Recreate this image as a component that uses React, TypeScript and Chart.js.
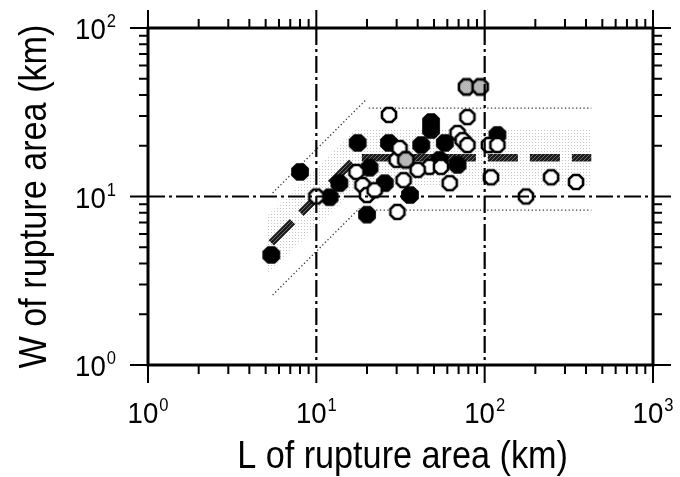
import React, { useEffect, useRef } from "react";
import { Chart, registerables } from "chart.js";

Chart.register(...registerables);

// ---- text ----
const X_TITLE = "L of rupture area (km)";
const Y_TITLE = "W of rupture area (km)";
const X_TICK_EXPONENTS = ["0", "1", "2", "3"];
const Y_TICK_EXPONENTS = ["0", "1", "2"];
const X_MIN = 1;
const X_MAX = 1000;
const Y_MIN = 1;
const Y_MAX = 100;
const GRID_X = [10, 100];
const GRID_Y = [10];

// ---- data: filled (black) events ----
const FILLED_L = [5.4, 8.0, 12, 13.7, 17.6, 20.7, 20, 27, 25.5, 36, 42, 48, 48, 58, 54, 69, 119];
const FILLED_W = [4.5, 14, 9.9, 12, 20.8, 14.8, 7.8, 20.8, 12, 10.2, 20.2, 27.7, 24.8, 20.8, 16.5, 15.4, 23.2];

// ---- data: open (white) events ----
const OPEN_L = [10, 17.3, 18.8, 20, 22.2, 27, 30, 30.3, 31.2, 47, 55, 62, 69, 74, 79, 79, 106, 119, 109, 176, 248, 349, 40, 33];
const OPEN_W = [10, 14, 11.7, 10.2, 10.9, 30.5, 16.5, 8.1, 19.4, 15, 15, 12, 23.8, 21.6, 20.2, 29.6, 20.2, 20.2, 13, 10, 13, 12.2, 14.4, 12.5];

// ---- data: gray (stippled) events ----
const GRAY_L = [34, 78, 94];
const GRAY_W = [16.5, 44.7, 44.7];

// ---- scaling relation (thick dashed) and its scatter band ----
const TREND_L = [5.4, 17.3, 430];
const TREND_W = [5.3, 17, 17];
const BAND_L = [5.1, 17.3, 430];
const BAND_UPPER_W = [7.7, 25.5, 25.5];
const BAND_LOWER_W = [3.4, 11.4, 11.4];

// ---- dotted envelope ----
const ENV_UP_DIAG_L = [5.5, 20];
const ENV_UP_DIAG_W = [10.5, 38];
const ENV_LOW_DIAG_L = [5.5, 18];
const ENV_LOW_DIAG_W = [2.6, 8.5];
const ENV_UP_FLAT_L = [20.5, 430];
const ENV_UP_FLAT_W = [33.5, 33.5];
const ENV_LOW_FLAT_L = [20.5, 430];
const ENV_LOW_FLAT_W = [8.3, 8.3];

const FONT = '"Liberation Sans", Arial, Helvetica, sans-serif';

const pts = (ls: number[], ws: number[]) => ls.map((l, i) => ({ x: l, y: ws[i] }));

function octagonPath(c: CanvasRenderingContext2D, cx: number, cy: number, r: number) {
  c.beginPath();
  for (let i = 0; i < 8; i++) {
    const a = Math.PI / 8 + (i * Math.PI) / 4;
    const px = cx + r * Math.cos(a);
    const py = cy + r * Math.sin(a);
    if (i === 0) c.moveTo(px, py);
    else c.lineTo(px, py);
  }
  c.closePath();
}

function makeMarker(r: number, fill: string | CanvasPattern, stroke: string | null, lw: number) {
  const size = Math.ceil(2 * r + lw + 2);
  const cv = document.createElement("canvas");
  cv.width = size;
  cv.height = size;
  const c = cv.getContext("2d")!;
  octagonPath(c, size / 2, size / 2, r);
  c.fillStyle = fill as any;
  c.fill();
  if (stroke) {
    c.lineWidth = lw;
    c.strokeStyle = stroke;
    c.stroke();
  }
  return cv;
}

const BASE_PX = 30;
const EXP_PX = 18;

function drawPow(c: CanvasRenderingContext2D, exp: string, xLeft: number, baseline: number, sx: number) {
  c.font = `${BASE_PX}px ${FONT}`;
  const w10 = c.measureText("10").width * sx;
  c.save();
  c.translate(xLeft, baseline);
  c.scale(sx, 1);
  c.fillText("10", 0, 0);
  c.restore();
  c.font = `${EXP_PX}px ${FONT}`;
  c.save();
  c.translate(xLeft + w10 + 1, baseline - 12);
  c.scale(sx, 1);
  c.fillText(exp, 0, 0);
  c.restore();
}

function powWidth(c: CanvasRenderingContext2D, exp: string, sx: number) {
  c.font = `${BASE_PX}px ${FONT}`;
  const a = c.measureText("10").width;
  c.font = `${EXP_PX}px ${FONT}`;
  const b = c.measureText(exp).width;
  return (a + b) * sx + 1;
}

const framePlugin = {
  id: "gmtFrame",
  afterDatasetsDraw(chart: any) {
    const { ctx: c, chartArea: a, scales } = chart;
    const xs = scales.x;
    const ys = scales.y;
    c.save();
    // dash-dot grid lines (on top of markers)
    c.strokeStyle = "#000";
    c.lineWidth = 2.2;
    c.setLineDash([17, 4, 3, 4]);
    GRID_X.forEach((v) => {
      const px = xs.getPixelForValue(v);
      c.beginPath();
      c.moveTo(px, a.top);
      c.lineTo(px, a.bottom);
      c.stroke();
    });
    GRID_Y.forEach((v) => {
      const py = ys.getPixelForValue(v);
      c.beginPath();
      c.moveTo(a.left, py);
      c.lineTo(a.right, py);
      c.stroke();
    });
    c.setLineDash([]);

    // ticks on all four sides, outward
    c.lineWidth = 2;
    const tickList = (min: number, max: number) => {
      const out: { v: number; major: boolean }[] = [];
      for (let e = Math.round(Math.log10(min)); Math.pow(10, e) <= max; e++) {
        for (let m = 1; m <= 9; m++) {
          const v = m * Math.pow(10, e);
          if (v >= min - 1e-9 && v <= max + 1e-9) out.push({ v, major: m === 1 });
        }
      }
      return out;
    };
    tickList(X_MIN, X_MAX).forEach(({ v, major }) => {
      const px = xs.getPixelForValue(v);
      const len = major ? 18 : 9;
      c.beginPath();
      c.moveTo(px, a.bottom);
      c.lineTo(px, a.bottom + len);
      c.moveTo(px, a.top);
      c.lineTo(px, a.top - len);
      c.stroke();
    });
    tickList(Y_MIN, Y_MAX).forEach(({ v, major }) => {
      const py = ys.getPixelForValue(v);
      const len = major ? 18 : 9;
      c.beginPath();
      c.moveTo(a.left, py);
      c.lineTo(a.left - len, py);
      c.moveTo(a.right, py);
      c.lineTo(a.right + len, py);
      c.stroke();
    });

    // frame
    c.lineWidth = 3;
    c.strokeRect(a.left, a.top, a.right - a.left, a.bottom - a.top);

    // tick labels
    c.fillStyle = "#000";
    c.textAlign = "left";
    c.textBaseline = "alphabetic";
    const sx = 0.92;
    X_TICK_EXPONENTS.forEach((exp) => {
      const v = Math.pow(10, Number(exp));
      const px = xs.getPixelForValue(v);
      const w = powWidth(c, exp, sx);
      drawPow(c, exp, px - w / 2, a.bottom + 58, sx);
    });
    Y_TICK_EXPONENTS.forEach((exp) => {
      const v = Math.pow(10, Number(exp));
      const py = ys.getPixelForValue(v);
      const w = powWidth(c, exp, sx);
      drawPow(c, exp, 116 - w, py + 11, sx);
    });

    // axis titles
    c.font = `38px ${FONT}`;
    c.textAlign = "center";
    c.save();
    c.translate((a.left + a.right) / 2 + 2, 468);
    c.scale(0.9, 1);
    c.fillText(X_TITLE, 0, 0);
    c.restore();
    c.save();
    c.translate(46, (a.top + a.bottom) / 2);
    c.rotate(-Math.PI / 2);
    c.scale(0.9, 1);
    c.fillText(Y_TITLE, 0, 0);
    c.restore();

    c.restore();
  },
};

export default function App() {
  const ref = useRef<HTMLCanvasElement>(null);

  useEffect(() => {
    const canvas = ref.current!;
    const c2 = canvas.getContext("2d")!;

    // light stipple for the scatter band
    const tile = document.createElement("canvas");
    tile.width = 3;
    tile.height = 3;
    const tc = tile.getContext("2d")!;
    tc.fillStyle = "#c4c4c4";
    tc.fillRect(1, 1, 1, 1);
    const stipple = c2.createPattern(tile, "repeat")!;

    // hatched dark pattern for the thick dashed relation
    const ht = document.createElement("canvas");
    ht.width = 4;
    ht.height = 4;
    const hc = ht.getContext("2d")!;
    hc.fillStyle = "#1c1c1c";
    hc.fillRect(0, 0, 4, 4);
    hc.fillStyle = "#6a6a6a";
    hc.fillRect(0, 3, 1, 1);
    hc.fillRect(1, 2, 1, 1);
    hc.fillRect(2, 1, 1, 1);
    hc.fillRect(3, 0, 1, 1);
    const hatch = c2.createPattern(ht, "repeat")!;

    // gray marker fill
    const gt = document.createElement("canvas");
    gt.width = 2;
    gt.height = 2;
    const gc = gt.getContext("2d")!;
    gc.fillStyle = "#e6e6e6";
    gc.fillRect(0, 0, 2, 2);
    gc.fillStyle = "#8a8a8a";
    gc.fillRect(0, 0, 1, 1);
    gc.fillRect(1, 1, 1, 1);
    const grayFill = c2.createPattern(gt, "repeat")!;

    const filledImg = makeMarker(9.6, "#000", null, 0);
    const openImg = makeMarker(7.6, "#fff", "#000", 2.6);
    const grayImg = makeMarker(8.2, grayFill, "#000", 2.6);

    const envStyle = {
      type: "line" as const,
      borderColor: "#3a3a3a",
      borderWidth: 1.3,
      borderDash: [1.3, 2.4],
      pointRadius: 0,
      fill: false,
      order: 9,
    };

    const chart = new Chart(canvas, {
      type: "scatter",
      data: {
        datasets: [
          {
            type: "line",
            data: pts(BAND_L, BAND_UPPER_W),
            borderColor: "transparent",
            borderWidth: 0,
            pointRadius: 0,
            backgroundColor: stipple as any,
            fill: "+1",
            order: 10,
          } as any,
          {
            type: "line",
            data: pts(BAND_L, BAND_LOWER_W),
            borderColor: "transparent",
            borderWidth: 0,
            pointRadius: 0,
            fill: false,
            order: 10,
          } as any,
          { ...envStyle, data: pts(ENV_UP_DIAG_L, ENV_UP_DIAG_W) } as any,
          { ...envStyle, data: pts(ENV_LOW_DIAG_L, ENV_LOW_DIAG_W) } as any,
          { ...envStyle, data: pts(ENV_UP_FLAT_L, ENV_UP_FLAT_W) } as any,
          { ...envStyle, data: pts(ENV_LOW_FLAT_L, ENV_LOW_FLAT_W) } as any,
          {
            type: "line",
            data: pts(TREND_L, TREND_W),
            borderColor: hatch as any,
            borderWidth: 7.5,
            borderDash: [30, 12],
            borderCapStyle: "butt",
            pointRadius: 0,
            fill: false,
            order: 8,
          } as any,
          {
            data: pts(FILLED_L, FILLED_W),
            pointStyle: filledImg as any,
            pointRadius: 9,
            order: 3,
          } as any,
          {
            data: pts(OPEN_L, OPEN_W),
            pointStyle: openImg as any,
            pointRadius: 8,
            order: 2,
          } as any,
          {
            data: pts(GRAY_L, GRAY_W),
            pointStyle: grayImg as any,
            pointRadius: 8,
            order: 1,
          } as any,
        ],
      },
      options: {
        animation: false,
        responsive: false,
        devicePixelRatio: 1,
        events: [],
        layout: { padding: { left: 148, right: 27, top: 28, bottom: 112 } },
        plugins: { legend: { display: false }, tooltip: { enabled: false } },
        scales: {
          x: { type: "logarithmic", min: X_MIN, max: X_MAX, display: false },
          y: { type: "logarithmic", min: Y_MIN, max: Y_MAX, display: false },
        },
      },
      plugins: [framePlugin],
    });
    return () => chart.destroy();
  }, []);

  return (
    <div style={{ position: "fixed", left: 0, top: 0, width: 680, height: 477, background: "#fff" }}>
      <canvas ref={ref} width={680} height={477} style={{ display: "block" }} />
    </div>
  );
}
